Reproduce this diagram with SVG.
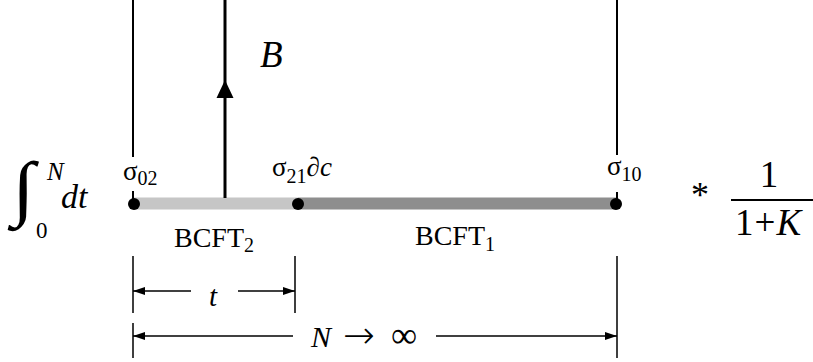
<svg xmlns="http://www.w3.org/2000/svg" width="813" height="362" viewBox="0 0 813 362">
<style>
text{font-family:"Liberation Serif","Times New Roman",serif;fill:#000}
.it{font-style:italic}
.ln{stroke:#000;fill:none}
.dim{stroke:#000;stroke-width:1.5;fill:none}
</style>
<defs>
<marker id="ah" viewBox="0 0 12 8" refX="12" refY="4" markerWidth="12" markerHeight="8" markerUnits="userSpaceOnUse" orient="auto-start-reverse">
<path d="M0,0 L12,4 L0,8 Z" fill="#000"/>
</marker>
</defs>
<rect width="813" height="362" fill="#fff"/>
<g id="formula-left">
<text x="0" y="0" font-size="72" transform="translate(12,212) scale(1.15,1)">∫</text>
<text x="47" y="180" font-size="25" class="it">N</text>
<text x="36" y="238" font-size="23">0</text>
<text x="61" y="208" font-size="34" class="it">dt</text>
</g>
<g id="bar">
<rect x="133" y="197.5" width="165" height="12" fill="#c6c6c6"/>
<rect x="298" y="197.5" width="318" height="12" fill="#8e8e8e"/>
</g>
<g id="connectors">
<path class="ln" stroke-width="2" d="M133,0 V157 M133,191 V203"/>
<path class="ln" stroke-width="2" d="M617,0 V155 M617,192 V203"/>
<path class="ln" stroke-width="3" d="M225,0 V198"/>
<path d="M225,80 L233.5,98 L216.5,98 Z" fill="#000"/>
<path class="dim" d="M133,256 V313 M133,323 V358 M295,256 V313 M617,256 V358"/>
<path class="dim" d="M191,291 H133" marker-end="url(#ah)"/>
<path class="dim" d="M238,291 H295" marker-end="url(#ah)"/>
<path class="dim" d="M293,336 H133" marker-end="url(#ah)"/>
<path class="dim" d="M436,336 H617" marker-end="url(#ah)"/>
</g>
<g id="node-s02">
<circle cx="134" cy="204" r="6" fill="#000"/>
<text x="123" y="180" font-size="27">σ<tspan font-size="20" dy="5">02</tspan></text>
</g>
<g id="node-s21">
<circle cx="298" cy="204" r="6" fill="#000"/>
<text x="272" y="176" font-size="27">σ<tspan font-size="20" dy="7">21</tspan><tspan dy="-7" class="it">∂c</tspan></text>
</g>
<g id="node-s10">
<circle cx="616" cy="204" r="6" fill="#000"/>
<text x="607" y="175" font-size="27">σ<tspan font-size="20" dy="6">10</tspan></text>
</g>
<g id="label-B"><text x="260" y="67" font-size="37" class="it">B</text></g>
<g id="label-bcft2"><text x="174" y="247" font-size="28">BCFT<tspan font-size="20" dy="5">2</tspan></text></g>
<g id="label-bcft1"><text x="415" y="245" font-size="28">BCFT<tspan font-size="20" dy="6">1</tspan></text></g>
<g id="label-t"><text x="209" y="306" font-size="29" class="it">t</text></g>
<g id="label-N">
<text x="311" y="347" font-size="30" class="it">N</text>
<text x="343" y="348" font-size="38" style="font-family:'DejaVu Sans',sans-serif;font-weight:200">→</text>
<text x="391" y="347" font-size="36" textLength="26" lengthAdjust="spacingAndGlyphs">∞</text>
</g>
<g id="formula-right">
<text x="691" y="207" font-size="36">*</text>
<text x="769" y="187" font-size="37" text-anchor="middle">1</text>
<line x1="731" y1="200" x2="813" y2="200" stroke="#000" stroke-width="2"/>
<text x="735" y="235" font-size="37" letter-spacing="1">1+<tspan class="it">K</tspan></text>
</g>
</svg>
